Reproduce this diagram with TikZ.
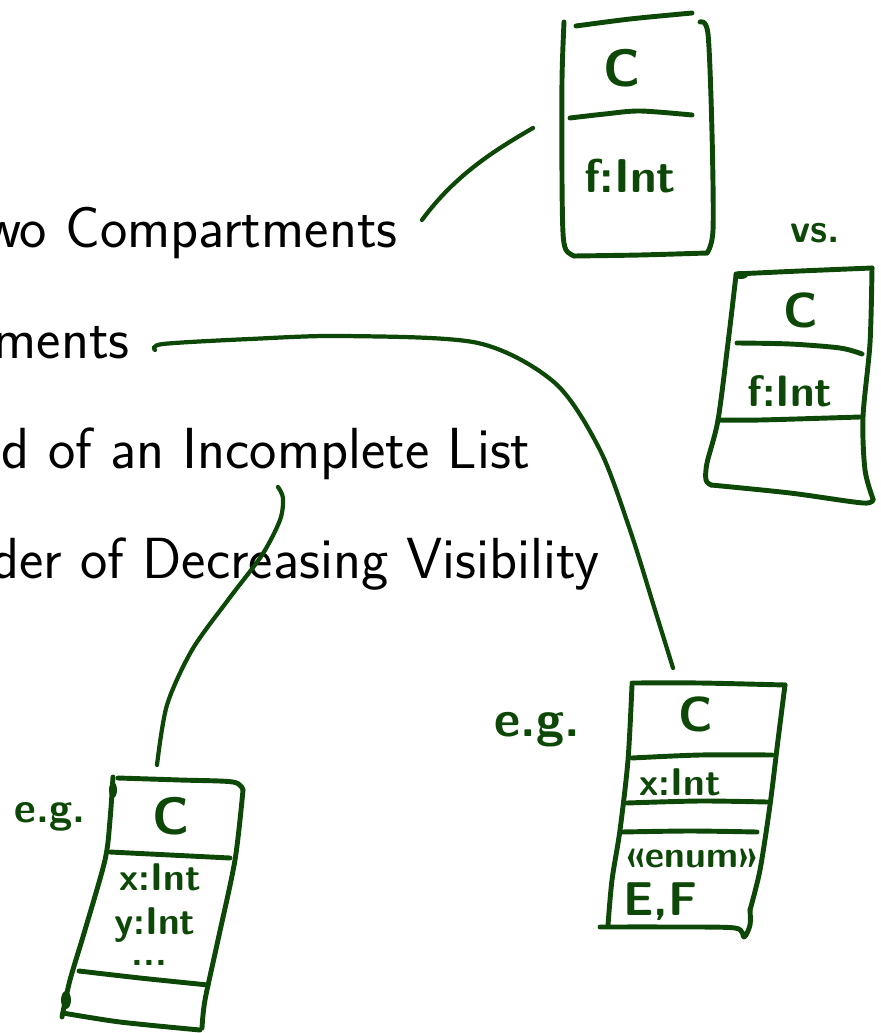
\documentclass[tikz,border=0pt]{standalone}
\usepackage{tikz}
\usepackage{xcolor}
\definecolor{ink}{RGB}{14,72,8}

\begin{document}
\begin{tikzpicture}[x=0.02cm,y=-0.02cm,
		pen/.style={draw=ink,line width=2.8pt,line cap=round,line join=round},
		wire/.style={draw=ink,line width=2.4pt,line cap=round},
		line/.style={anchor=base east,inner sep=0pt,font=\sffamily\fontsize{33}{39}\selectfont},
		hand/.style={text=ink,inner sep=0pt,font=\sffamily\bfseries\fontsize{22}{25}\selectfont}]
	\useasboundingbox (0,0) rectangle (881,1033);
	\clip (0,0) rectangle (881,1033);
	% text lines
	\node [line] (two) at (398,248) {wo Compartments};
	\node [line] (ments) at (130,358) {ments};
	\node [line] (list) at (531,468) {d of an Incomplete List};
	\node [line] (order) at (600,578) {der of Decreasing Visibility};
	% box with two compartments
	\draw [pen] plot [smooth] coordinates {(564,22) (562,80) (562,180) (563,233) (566,250) (574,256)};
	\draw [pen] plot [smooth] coordinates {(574,256) (640,255) (707,253)};
	\draw [pen] plot [smooth] coordinates {(700,22) (708,34) (712,133) (713,230) (707,253)};
	\draw [pen] plot [smooth] coordinates {(576,26) (630,19) (692,13)};
	\draw [pen] plot [smooth] coordinates {(570,118) (605,114) (640,111) (692,115)};
	\node [hand,font=\sffamily\bfseries\fontsize{30}{34}\selectfont] (c1) at (622,68) {C};
	\node [hand,font=\sffamily\bfseries\fontsize{27}{30}\selectfont] (f1) at (630,176) {f:Int};
	% vs. box with three compartments
	\node [hand,font=\sffamily\bfseries\fontsize{23}{26}\selectfont] (vs) at (815,233) {vs.};
	\draw [pen] plot [smooth] coordinates {(736,274) (800,271) (872,268)};
	\draw [pen] plot [smooth] coordinates {(736,275) (728,343) (718,420) (707,463) (706,480) (711,485)};
	\draw [pen] plot [smooth] coordinates {(711,485) (790,493) (863,503) (873,499)};
	\draw [pen] plot [smooth] coordinates {(872,268) (870,343) (863,417) (865,470) (873,499)};
	\draw [pen] plot [smooth] coordinates {(737,343) (790,344) (840,348) (862,354)};
	\draw [pen] plot [smooth] coordinates {(718,420) (760,420) (860,417)};
	\fill [ink] (741,275) ellipse (7 and 4);
	\node [hand,font=\sffamily\bfseries\fontsize{28}{32}\selectfont] (c2) at (801,310) {C};
	\node [hand,font=\sffamily\bfseries\fontsize{25}{28}\selectfont] (f2) at (790,391) {f:Int};
	% e.g. box with enumeration
	\node [hand,font=\sffamily\bfseries\fontsize{29}{33}\selectfont] (eg1) at (537,730) {e.g.};
	\draw [pen] plot [smooth] coordinates {(632,683) (700,683) (785,685)};
	\draw [pen] plot [smooth] coordinates {(632,685) (628,760) (620,830) (612,880) (608,925)};
	\draw [pen] plot [smooth] coordinates {(600,927) (670,927) (735,928) (744,937) (750,925) (750,910)};
	\draw [pen] plot [smooth] coordinates {(785,685) (778,740) (770,805) (760,870) (750,910)};
	\draw [pen] plot [smooth] coordinates {(632,758) (700,755) (772,755)};
	\draw [pen] plot [smooth] coordinates {(627,803) (700,801) (767,802)};
	\draw [pen] plot [smooth] coordinates {(622,832) (690,831) (757,832)};
	\node [hand,font=\sffamily\bfseries\fontsize{28}{32}\selectfont] (c3) at (696,714) {C};
	\node [hand] (x3) at (680,782) {x:Int};
	\node [hand,font=\sffamily\bfseries\fontsize{21}{24}\selectfont] (enum) at (692,858) {«enum»};
	\node [hand,font=\sffamily\bfseries\fontsize{27}{30}\selectfont] (ef) at (660,902) {E,F};
	% e.g. box with incomplete list
	\node [hand,font=\sffamily\bfseries\fontsize{24}{28}\selectfont] (eg2) at (50,817) {e.g.};
	\draw [pen] plot [smooth] coordinates {(118,778) (180,780) (233,782) (243,790)};
	\draw [pen] plot [smooth] coordinates {(113,777) (110,820) (105,860) (85,930) (70,980) (62,1017)};
	\draw [pen] plot [smooth] coordinates {(63,1013) (120,1022) (200,1030)};
	\draw [pen] plot [smooth] coordinates {(243,790) (235,860) (218,940) (205,1000) (202,1028)};
	\draw [pen] plot [smooth] coordinates {(110,852) (170,855) (230,858)};
	\draw [pen] plot [smooth] coordinates {(79,971) (140,978) (208,985)};
	\fill [ink] (113,790) ellipse (4 and 8);
	\fill [ink] (66,1000) ellipse (5 and 9);
	\node [hand,font=\sffamily\bfseries\fontsize{30}{34}\selectfont] (c4) at (171,816) {C};
	\node [hand,align=left,anchor=north west] (attrs4) at (114,863) {\hspace{3pt}x:Int\\y:Int\\[-7pt]\hspace{10pt}...};
	% connectors
	\coordinate (twoend) at (422,220);
	\coordinate (box1) at (533,128);
	\coordinate (mentsend) at (155,350);
	\coordinate (box3) at (673,668);
	\coordinate (listend) at (278,487);
	\coordinate (box4) at (157,765);
	\draw [wire] (twoend) .. controls (455,175) and (495,150) .. (box1);
	\draw [wire] plot [smooth] coordinates {(mentsend) (163,344) (250,339) (344,336) (478,343) (555,383) (600,450) (630,530) (655,610) (box3)};
	\draw [wire] plot [smooth] coordinates {(listend) (283,498) (280,520) (262,555) (228,600) (192,650) (167,705) (box4)};
\end{tikzpicture}
\end{document}
